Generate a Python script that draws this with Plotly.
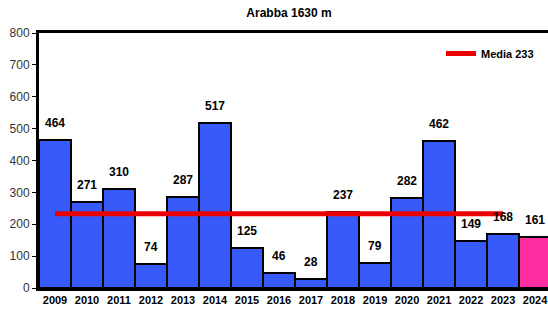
import plotly.graph_objects as go

years = ["2009", "2010", "2011", "2012", "2013", "2014", "2015", "2016",
         "2017", "2018", "2019", "2020", "2021", "2022", "2023", "2024"]
values = [464, 271, 310, 74, 287, 517, 125, 46, 28, 237, 79, 282, 462, 149, 168, 161]
mean_value = 233
mean_label = "Media 233"
title = "Arabba 1630 m"

blue = "rgb(55,90,250)"
pink = "rgb(255,45,160)"
colors = [blue] * (len(years) - 1) + [pink]

FONT = "Liberation Sans, Arial, sans-serif"

fig = go.Figure()
fig.add_trace(go.Bar(
    x=years, y=values,
    marker=dict(color=colors, line=dict(color="black", width=2)),
    showlegend=False, hoverinfo="x+y",
))
fig.add_trace(go.Scatter(
    x=[years[0], years[-2]], y=[mean_value, mean_value],
    mode="lines", line=dict(color="rgb(235,0,0)", width=5),
    name=f"<b>{mean_label}</b>", showlegend=True,
))

for i, v in enumerate(values):
    fig.add_annotation(x=i, y=v, xref="x", yref="y", text=f"<b>{v}</b>",
                       showarrow=False, yanchor="bottom", yshift=8,
                       font=dict(family=FONT, size=12, color="black"))

fig.update_layout(
    width=548, height=309,
    margin=dict(l=39, r=0, t=33, b=21, autoexpand=False),
    plot_bgcolor="white", paper_bgcolor="white",
    bargap=0,
    title=dict(text=f"<b>{title}</b>", x=289 / 548, xanchor="center",
               y=1 - 13 / 309, yanchor="middle",
               font=dict(family=FONT, size=12, color="black")),
    legend=dict(x=(441 - 39) / 509, xanchor="left", y=1 - 6 / 255, yanchor="top",
                bgcolor="rgba(0,0,0,0)",
                font=dict(family=FONT, size=11, color="black"),
                itemwidth=30),
    font=dict(family=FONT),
)
fig.update_xaxes(
    type="category", range=[-0.5, 15.406], automargin=False,
    showline=True, linecolor="black", linewidth=3, mirror=True,
    ticks="", showgrid=False,
    tickfont=dict(family=FONT, size=11, color="black", weight="bold"),
)
fig.update_yaxes(
    range=[0, 800], dtick=100, automargin=False,
    showline=True, linecolor="black", linewidth=3, mirror=False,
    ticks="outside", ticklen=4, tickcolor="black", tickwidth=1,
    showgrid=False, zeroline=False,
    tickfont=dict(family=FONT, size=12, color="#333"),
)

fig.write_html("out.html", config={"displayModeBar": False},
               post_script="document.body.style.margin='0';document.body.style.padding='0';")
